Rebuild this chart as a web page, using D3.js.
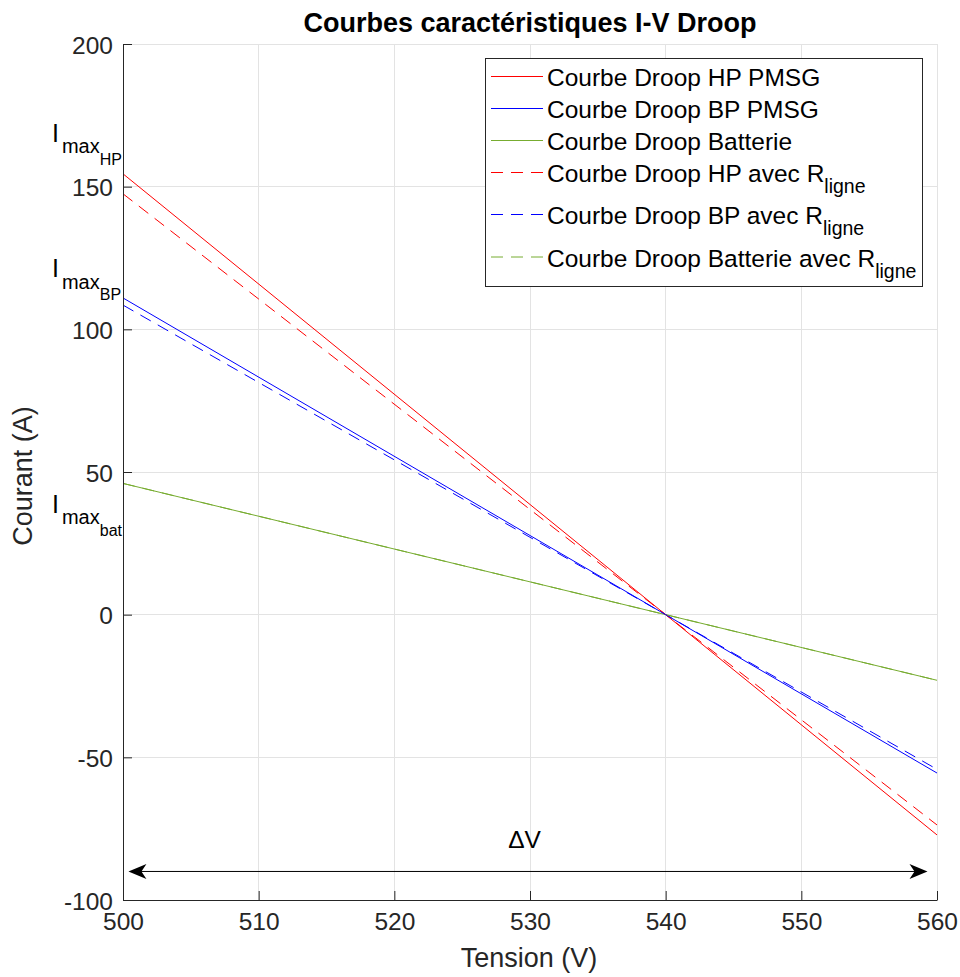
<!DOCTYPE html>
<html>
<head>
<meta charset="utf-8">
<script src="https://cdn.jsdelivr.net/npm/d3@7"></script>
<style>
  html, body { margin: 0; padding: 0; background: #fff; }
  svg { display: block; font-family: "Liberation Sans", Arial, Helvetica, sans-serif; }
</style>
</head>
<body>
<svg id="chart" width="960" height="977"></svg>
<script>
// ---- Data ----
const voltage = [500, 540, 560];
const iHP   = [154.5, 0, -77.2];
const iBP   = [111.0, 0, -55.5];
const iBat  = [46.0, 0, -23.0];
const iHPR  = [147.5, 0, -73.7];
const iBPR  = [108.5, 0, -54.2];
const iBatR = [46.0, 0, -23.0];

const seriesNames = [
  "Courbe Droop HP PMSG",
  "Courbe Droop BP PMSG",
  "Courbe Droop Batterie",
  "Courbe Droop HP avec R",
  "Courbe Droop BP avec R",
  "Courbe Droop Batterie avec R"
];
const xTicks = [500, 510, 520, 530, 540, 550, 560];
const yTicks = [-100, -50, 0, 50, 100, 150, 200];

// Imax annotation levels (y of the "I" baseline, in A) and subscripts
const imaxLevels = [165.7, 118.3, 35.8];
const imaxSubs = ["HP", "BP", "bat"];

// Delta V arrow (in V / A)
const arrowX = [500.4, 559.3];
const arrowY = -90;

// ---- Setup ----
const svg = d3.select("#chart");
const mLeft = 123, mRight = 937, mTop = 44, mBottom = 900;
const x = d3.scaleLinear().domain([500, 560]).range([mLeft, mRight]);
const y = d3.scaleLinear().domain([-100, 200]).range([mBottom, mTop]);

const axisColor = "#262626";
const gridColor = "#e3e3e3";
const fs = 24.5;

// Grid
const grid = svg.append("g");
xTicks.forEach(t => {
  grid.append("line").attr("x1", x(t)).attr("x2", x(t)).attr("y1", mTop).attr("y2", mBottom)
    .attr("stroke", gridColor).attr("stroke-width", 1).attr("shape-rendering", "crispEdges");
});
yTicks.forEach(t => {
  grid.append("line").attr("x1", mLeft).attr("x2", mRight).attr("y1", y(t)).attr("y2", y(t))
    .attr("stroke", gridColor).attr("stroke-width", 1).attr("shape-rendering", "crispEdges");
});

// Series
const series = [
  {v: iHP,   color: "#ff0000", dash: null},
  {v: iBP,   color: "#0000ff", dash: null},
  {v: iBat,  color: "#77ac30", dash: null},
  {v: iHPR,  color: "#ff0000", dash: "12,8"},
  {v: iBPR,  color: "#0000ff", dash: "12,8"},
  {v: iBatR, color: "#77ac30", dash: "12,8"}
];
const line = d3.line().x(d => x(d[0])).y(d => y(d[1]));
const plot = svg.append("g");
series.forEach(s => {
  plot.append("path")
    .datum(voltage.map((v, i) => [v, s.v[i]]))
    .attr("d", line)
    .attr("fill", "none")
    .attr("stroke", s.color)
    .attr("stroke-width", 1)
    .attr("stroke-dasharray", s.dash);
});

// Axes
const fmt = d => String(d);
const xAxis = d3.axisBottom(x).tickValues(xTicks).tickSizeInner(-9).tickSizeOuter(0).tickPadding(0).tickFormat(fmt);
const yAxis = d3.axisLeft(y).tickValues(yTicks).tickSizeInner(-9).tickSizeOuter(0).tickPadding(0).tickFormat(fmt);

const gx = svg.append("g").attr("transform", `translate(0,${mBottom})`).call(xAxis);
gx.select(".domain").attr("stroke", axisColor);
gx.selectAll(".tick line").attr("stroke", axisColor);
gx.selectAll(".tick text").attr("fill", axisColor).attr("font-size", fs)
  .attr("font-family", "Liberation Sans, Arial, sans-serif")
  .attr("y", 30).attr("dy", 0);

const gy = svg.append("g").attr("transform", `translate(${mLeft},0)`).call(yAxis);
gy.select(".domain").attr("stroke", axisColor);
gy.selectAll(".tick line").attr("stroke", axisColor);
gy.selectAll(".tick text").attr("fill", axisColor).attr("font-size", fs)
  .attr("font-family", "Liberation Sans, Arial, sans-serif")
  .attr("x", -10).attr("dy", "0.37em");

// Axis labels
svg.append("text").attr("x", (mLeft + mRight) / 2 - 1).attr("y", 967)
  .attr("text-anchor", "middle").attr("font-size", 27).attr("fill", axisColor)
  .text("Tension (V)");
svg.append("text").attr("transform", `translate(32,476) rotate(-90)`)
  .attr("text-anchor", "middle").attr("font-size", 27).attr("fill", axisColor)
  .text("Courant (A)");

// Title
svg.append("text").attr("x", (mLeft + mRight) / 2).attr("y", 32)
  .attr("text-anchor", "middle").attr("font-size", 27).attr("font-weight", "bold")
  .attr("fill", "#000").text("Courbes caractéristiques I-V Droop");

// Imax annotations
imaxLevels.forEach((lv, i) => {
  const t = svg.append("text").attr("x", 52).attr("y", y(lv)).attr("fill", "#000");
  t.append("tspan").attr("font-size", 25).text("I");
  t.append("tspan").attr("font-size", 20).attr("dx", 3).attr("dy", 11.5).text("max");
  t.append("tspan").attr("font-size", 16).attr("dy", 11.5).text(imaxSubs[i]);
});

// Delta V arrow
const ax0 = x(arrowX[0]), ax1 = x(arrowX[1]), ay = y(arrowY);
svg.append("line").attr("x1", ax0 + 5).attr("x2", ax1 - 5).attr("y1", ay).attr("y2", ay)
  .attr("stroke", "#000").attr("stroke-width", 1);
svg.append("path")
  .attr("d", `M${ax0},${ay} L${ax0 + 18},${ay - 7.5} L${ax0 + 13},${ay} L${ax0 + 18},${ay + 7.5} Z`)
  .attr("fill", "#000");
svg.append("path")
  .attr("d", `M${ax1},${ay} L${ax1 - 18},${ay - 7.5} L${ax1 - 13},${ay} L${ax1 - 18},${ay + 7.5} Z`)
  .attr("fill", "#000");
svg.append("text").attr("x", x(529.6)).attr("y", 848).attr("text-anchor", "middle")
  .attr("font-size", fs).attr("fill", "#000").text("ΔV");

// Legend
const lg = svg.append("g");
lg.append("rect").attr("x", 485.5).attr("y", 58.5).attr("width", 437).attr("height", 228)
  .attr("fill", "#fff").attr("stroke", axisColor).attr("stroke-width", 1);
const rowBase = [86, 118, 150, 182, 224, 266.5];
series.forEach((s, i) => {
  const by = rowBase[i];
  lg.append("line").attr("x1", 491).attr("x2", 543).attr("y1", by - 9.5).attr("y2", by - 9.5)
    .attr("stroke", s.color).attr("stroke-width", 1).attr("stroke-dasharray", s.dash ? "12,8" : null);
  const t = lg.append("text").attr("x", 547).attr("y", by).attr("font-size", fs).attr("fill", "#000");
  t.append("tspan").text(seriesNames[i]);
  if (i >= 3) {
    t.append("tspan").attr("font-size", 19.5).attr("dy", 11).text("ligne");
  }
});
</script>
</body>
</html>
